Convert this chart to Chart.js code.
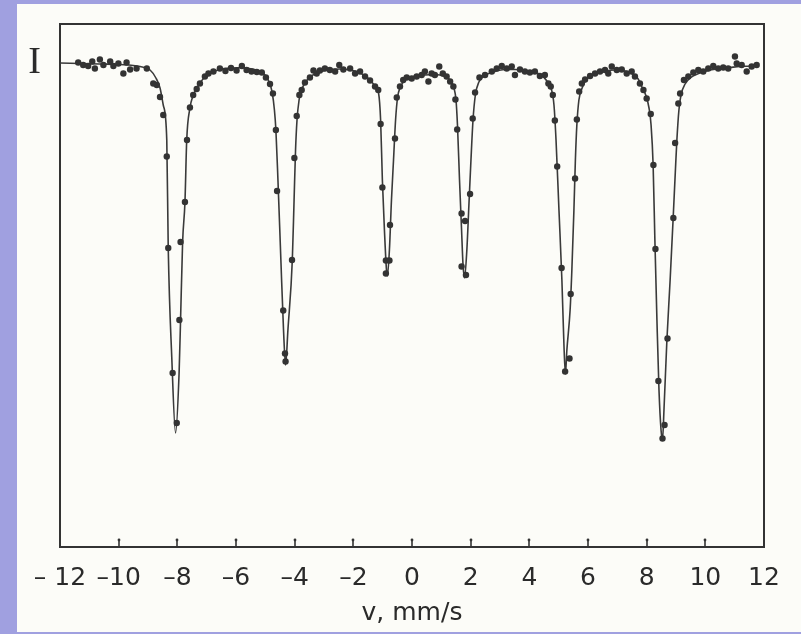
<!DOCTYPE html>
<html>
<head>
<meta charset="utf-8">
<title>Mössbauer spectrum</title>
<script src="https://cdn.jsdelivr.net/npm/chart.js@4/dist/chart.umd.min.js"></script>
<style>
  body { margin: 0; background: #a0a0e0; }
  #paper { position: absolute; left: 17px; top: 4px; width: 784px; height: 628px; background: #fcfcf8; }
  #spectrum { position: absolute; left: 0; top: 0; }
</style>
</head>
<body>
<div id="paper"></div>
<canvas id="spectrum" width="801" height="634"></canvas>
<script>
// measured points: velocity (mm/s) and relative intensity (baseline = 100)
let dotVelocity = [
  -11.38, -11.21, -11.04, -10.90, -10.81, -10.64, -10.52, -10.29, -10.18, -10.01,
  -9.84, -9.73, -9.61, -9.39, -9.04, -8.82, -8.70, -8.59, -8.48, -8.36,
  -8.31, -8.16, -8.02, -7.93, -7.89, -7.74, -7.67, -7.57, -7.46, -7.34,
  -7.23, -7.06, -6.94, -6.77, -6.55, -6.36, -6.17, -5.98, -5.80, -5.64,
  -5.47, -5.29, -5.12, -4.98, -4.84, -4.74, -4.64, -4.60, -4.39, -4.33,
  -4.31, -4.09, -4.01, -3.93, -3.84, -3.76, -3.65, -3.48, -3.36, -3.25,
  -3.14, -2.97, -2.80, -2.62, -2.48, -2.34, -2.11, -1.94, -1.77, -1.60,
  -1.43, -1.26, -1.15, -1.07, -1.01, -0.89, -0.89, -0.77, -0.75, -0.58,
  -0.52, -0.41, -0.30, -0.18, -0.01, 0.16, 0.33, 0.44, 0.56, 0.67,
  0.78, 0.93, 1.05, 1.18, 1.30, 1.41, 1.48, 1.54, 1.69, 1.69,
  1.84, 1.81, 1.98, 2.07, 2.15, 2.30, 2.49, 2.72, 2.89, 3.06,
  3.23, 3.40, 3.51, 3.68, 3.85, 4.02, 4.19, 4.36, 4.53, 4.65,
  4.73, 4.80, 4.87, 4.95, 5.10, 5.22, 5.37, 5.41, 5.56, 5.62,
  5.70, 5.79, 5.90, 6.07, 6.24, 6.41, 6.58, 6.69, 6.81, 6.98,
  7.15, 7.32, 7.49, 7.60, 7.77, 7.89, 8.00, 8.14, 8.23, 8.30,
  8.40, 8.54, 8.61, 8.71, 8.91, 8.97, 9.08, 9.14, 9.27, 9.42,
  9.59, 9.76, 9.93, 10.10, 10.27, 10.44, 10.61, 10.78, 11.01, 11.07,
  11.24, 11.41, 11.58, 11.75
];
let dotIntensity = [
  100.1, 99.6, 99.4, 100.3, 98.9, 100.7, 99.6, 100.3, 99.4, 99.9,
  97.9, 100.1, 98.7, 98.9, 98.9, 95.9, 95.6, 93.2, 89.6, 81.3,
  63.0, 38.0, 28.0, 48.6, 64.2, 72.2, 84.6, 91.1, 93.6, 94.8,
  95.9, 97.3, 97.9, 98.3, 98.9, 98.4, 99.0, 98.5, 99.4, 98.6,
  98.3, 98.2, 98.1, 97.1, 95.8, 93.9, 86.6, 74.4, 50.5, 41.9,
  40.3, 60.6, 81.0, 89.4, 93.6, 94.6, 96.1, 97.1, 98.5, 97.9,
  98.5, 98.9, 98.6, 98.3, 99.6, 98.7, 98.9, 97.9, 98.3, 97.3,
  96.5, 95.3, 94.6, 87.8, 75.1, 60.5, 57.9, 60.5, 67.6, 84.9,
  93.1, 95.3, 96.6, 97.1, 96.9, 97.3, 97.6, 98.3, 96.3, 97.9,
  97.6, 99.3, 97.9, 97.3, 96.3, 95.3, 92.7, 86.7, 69.9, 59.3,
  57.6, 68.4, 73.8, 88.9, 94.1, 97.1, 97.6, 98.3, 98.9, 99.4,
  98.9, 99.3, 97.6, 98.7, 98.3, 98.1, 98.3, 97.4, 97.6, 95.9,
  95.3, 93.6, 88.5, 79.3, 59.0, 38.3, 40.9, 53.8, 76.9, 88.7,
  94.3, 95.9, 96.7, 97.4, 97.9, 98.3, 98.6, 97.9, 99.3, 98.6,
  98.7, 97.9, 98.3, 97.3, 95.9, 94.6, 92.9, 89.8, 79.6, 62.8,
  36.4, 24.9, 27.6, 44.9, 69.0, 84.0, 91.9, 93.9, 96.6, 97.3,
  98.1, 98.6, 98.3, 98.9, 99.4, 98.9, 99.1, 98.9, 101.3, 99.9,
  99.6, 98.3, 99.3, 99.6
];

// fitted six-line curve
let fitVelocity = [
  -12.00, -11.32, -10.64, -9.96, -9.27, -8.93, -8.73, -8.59, -8.48, -8.36,
  -8.31, -8.19, -8.06, -7.94, -7.89, -7.82, -7.74, -7.68, -7.57, -7.47,
  -7.33, -7.23, -7.06, -6.89, -6.55, -6.14, -5.80, -5.45, -5.18, -5.01,
  -4.87, -4.77, -4.69, -4.64, -4.57, -4.47, -4.38, -4.31, -4.23, -4.08,
  -4.02, -3.97, -3.92, -3.85, -3.78, -3.65, -3.48, -3.14, -2.80, -2.45,
  -2.11, -1.84, -1.60, -1.43, -1.26, -1.14, -1.07, -1.01, -0.94, -0.87,
  -0.84, -0.77, -0.70, -0.63, -0.56, -0.49, -0.41, -0.24, 0.00, 0.44,
  0.78, 1.12, 1.30, 1.43, 1.50, 1.55, 1.62, 1.69, 1.74, 1.79,
  1.87, 1.94, 2.01, 2.08, 2.16, 2.28, 2.49, 2.83, 3.17, 3.51,
  3.85, 4.19, 4.43, 4.60, 4.74, 4.84, 4.91, 5.01, 5.11, 5.18,
  5.23, 5.28, 5.39, 5.45, 5.52, 5.57, 5.62, 5.69, 5.80, 5.93,
  6.24, 6.58, 6.92, 7.26, 7.50, 7.71, 7.84, 7.98, 8.08, 8.15,
  8.22, 8.28, 8.35, 8.42, 8.49, 8.54, 8.59, 8.69, 8.80, 8.90,
  8.98, 9.03, 9.10, 9.17, 9.31, 9.48, 9.82, 10.16, 10.50, 10.84,
  11.18, 11.52, 11.76
];
let fitIntensity = [
  100.0, 99.9, 99.8, 99.7, 99.3, 98.6, 97.0, 95.0, 91.6, 84.6,
  63.0, 41.2, 26.0, 38.0, 48.6, 64.2, 72.2, 84.6, 91.0, 93.4,
  95.0, 96.0, 97.2, 98.0, 98.7, 99.0, 99.1, 98.8, 98.3, 97.6,
  96.2, 94.2, 90.6, 86.6, 76.6, 60.6, 46.6, 39.6, 46.6, 60.6,
  72.6, 82.6, 88.6, 92.6, 94.4, 96.0, 97.2, 98.2, 98.7, 98.8,
  98.6, 98.2, 97.4, 96.6, 95.4, 94.0, 88.6, 76.6, 66.6, 58.6,
  57.4, 62.6, 72.6, 80.6, 88.6, 93.2, 95.0, 96.6, 97.2, 97.6,
  97.7, 97.3, 96.6, 95.0, 92.6, 87.6, 76.6, 66.6, 59.6, 57.0,
  62.6, 71.6, 80.6, 88.6, 93.6, 96.2, 97.5, 98.3, 98.7, 98.7,
  98.5, 98.1, 97.5, 96.4, 95.0, 91.6, 84.6, 70.6, 56.6, 43.6,
  37.8, 42.6, 50.6, 58.6, 70.6, 80.6, 87.6, 92.6, 95.0, 96.6,
  97.8, 98.4, 98.6, 98.4, 97.9, 96.8, 95.2, 93.4, 91.0, 87.6,
  79.6, 64.6, 48.6, 34.6, 26.6, 24.6, 30.6, 44.6, 56.6, 68.6,
  78.6, 84.6, 90.6, 93.6, 95.8, 97.0, 98.0, 98.6, 98.9, 99.1,
  99.3, 99.4, 99.6
];

let velocityTicks = [-12, -10, -8, -6, -4, -2, 0, 2, 4, 6, 8, 10, 12];

function toPoints(xs, ys) {
  let pts = [];
  for (let i = 0; i < xs.length; i++) {
    pts.push({ x: xs[i], y: ys[i] });
  };
  return pts;
};

function tickText(v) {
  if (v == -12) {
    return '\u2013 12';
  } else if (v < 0) {
    return '\u2013' + Math.abs(v);
  };
  return String(v);
};

let ink = '#333333';

// box round the plot area plus short inward ticks on the velocity axis
let frameBox = {
  id: 'frameBox',
  afterDraw(chart) {
    let a = chart.chartArea;
    let ctx = chart.ctx;
    let xs = chart.scales.x;
    ctx.save();
    ctx.strokeStyle = ink;
    ctx.fillStyle = ink;
    ctx.lineWidth = 2;
    ctx.beginPath();
    ctx.moveTo(a.left, a.top);
    ctx.lineTo(a.right, a.top);
    ctx.lineTo(a.right, a.bottom);
    ctx.stroke();
    ctx.lineWidth = 1.6;
    for (let i = 1; i < velocityTicks.length - 1; i++) {
      let px = Math.round(xs.getPixelForValue(velocityTicks[i]));
      ctx.beginPath();
      ctx.moveTo(px, a.bottom);
      ctx.lineTo(px, a.bottom - 7);
      ctx.stroke();
      ctx.beginPath();
      ctx.arc(px, a.bottom - 7, 1.4, 0, Math.PI * 2);
      ctx.fill();
    };
    ctx.restore();
  }
};

new Chart(document.getElementById('spectrum'), {
  type: 'scatter',
  data: {
    datasets: [
      {
        data: toPoints(dotVelocity, dotIntensity),
        pointRadius: 3.2,
        pointBackgroundColor: ink,
        pointBorderWidth: 0,
        showLine: false,
        order: 0
      },
      {
        data: toPoints(fitVelocity, fitIntensity),
        showLine: true,
        borderColor: '#3a3a3a',
        borderWidth: 1.6,
        pointRadius: 0,
        cubicInterpolationMode: 'monotone',
        order: 1
      }
    ]
  },
  options: {
    responsive: false,
    animation: false,
    devicePixelRatio: 1,
    layout: { padding: { left: 20, top: 24, right: 37, bottom: 0 } },
    plugins: { legend: { display: false }, tooltip: { enabled: false } },
    scales: {
      x: {
        type: 'linear',
        min: -12,
        max: 12,
        afterBuildTicks: function (scale) {
          scale.ticks = velocityTicks.map(v => ({ value: v }));
        },
        afterFit: function (scale) {
          scale.height = 87;
          scale.paddingLeft = 0;
          scale.paddingRight = 0;
        },
        border: { display: true, color: ink, width: 2 },
        grid: { drawOnChartArea: false, drawTicks: false },
        ticks: {
          padding: 16,
          maxRotation: 0,
          autoSkip: false,
          color: '#2a2a2a',
          font: { family: 'DejaVu Sans', size: 25 },
          callback: function (v) { return tickText(v); }
        },
        title: {
          display: true,
          text: 'v, mm/s',
          color: '#2a2a2a',
          font: { family: 'DejaVu Sans', size: 25 },
          padding: { top: 0, bottom: 6 }
        }
      },
      y: {
        type: 'linear',
        min: 3.2,
        max: 107.8,
        afterBuildTicks: function (scale) {
          scale.ticks = [{ value: 100 }];
        },
        afterFit: function (scale) {
          scale.width = 40;
          scale.paddingTop = 0;
          scale.paddingBottom = 0;
        },
        border: { display: true, color: ink, width: 2 },
        grid: { drawOnChartArea: false, drawTicks: false },
        ticks: {
          padding: 19,
          color: '#2a2a2a',
          font: { family: 'Liberation Serif', size: 38 },
          callback: function () { return 'I'; }
        }
      }
    }
  },
  plugins: [frameBox]
});
</script>
</body>
</html>
